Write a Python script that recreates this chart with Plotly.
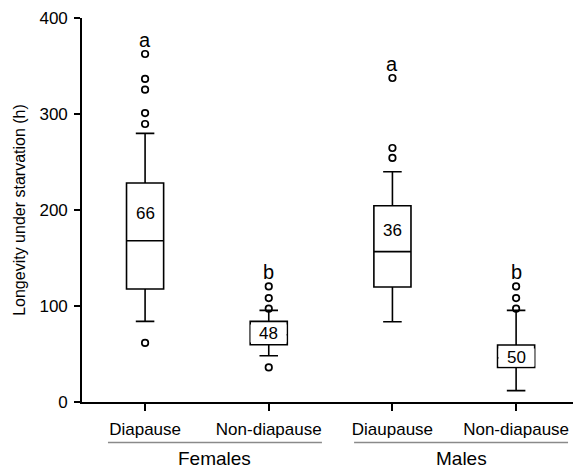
import plotly.graph_objects as go

# ---- data ----
group_labels = ["Females", "Males"]
tick_labels = ["Diapause", "Non-diapause", "Diaupause", "Non-diapause"]
q1 = [117.7, 59.7, 119.8, 36.0]
median = [168.0, 70.0, 156.6, 46.0]
q3 = [228.1, 84.0, 204.5, 59.4]
lower_whisker = [84.0, 48.2, 83.6, 11.8]
upper_whisker = [279.8, 95.4, 239.9, 95.4]
outliers_f_dia = [61.5, 289.6, 301.0, 325.3, 336.5, 362.5]
outliers_f_non = [36.0, 97.2, 108.3, 120.4]
outliers_m_dia = [254.2, 264.6, 337.5]
outliers_m_non = [97.2, 108.3, 120.4]
sample_sizes = [66, 48, 36, 50]
letters = ["a", "b", "a", "b"]

outliers = [outliers_f_dia, outliers_f_non, outliers_m_dia, outliers_m_non]
xpos = list(range(len(tick_labels)))

FONT = "Liberation Sans, Arial, Helvetica, sans-serif"

fig = go.Figure()
fig.add_trace(go.Box(
    x=xpos, q1=q1, median=median, q3=q3,
    lowerfence=lower_whisker, upperfence=upper_whisker,
    width=0.3, whiskerwidth=0.5, boxpoints=False,
    fillcolor="white", line=dict(color="black", width=1.6),
    showlegend=False, hoverinfo="skip",
))

ox, oy = [], []
for i, vals in enumerate(outliers):
    ox += [xpos[i]] * len(vals)
    oy += vals
fig.add_trace(go.Scatter(
    x=ox, y=oy, mode="markers",
    marker=dict(symbol="circle-open", size=6.5, color="black", line=dict(width=1.7)),
    showlegend=False, hoverinfo="skip",
))

annotations = []
for i in xpos:
    small = q3[i] - q1[i] < 60
    if not small:
        ny = (q3[i] + median[i]) / 2 - 2
        annotations.append(dict(x=xpos[i], y=ny, text=str(sample_sizes[i]), showarrow=False,
                                font=dict(size=17, color="black", family=FONT),
                                xref="x", yref="y"))
    else:
        ny = (q3[i] + q1[i]) / 2 - 1
        annotations.append(dict(x=xpos[i], y=ny, text=str(sample_sizes[i]), showarrow=False,
                                font=dict(size=17, color="black", family=FONT),
                                bgcolor="white", width=35, height=17, borderpad=0,
                                xref="x", yref="y"))
    top = max(outliers[i])
    annotations.append(dict(x=xpos[i], y=top, text=letters[i], showarrow=False,
                            yanchor="bottom", yshift=1,
                            font=dict(size=20, color="black", family=FONT),
                            xref="x", yref="y"))

# group labels
group_spans = [(-0.30, 1.43), (1.69, 3.42)]
shapes = []
for (a, b), g in zip(group_spans, group_labels):
    shapes.append(dict(type="line", xref="x", yref="paper", x0=a, x1=b,
                       y0=-0.1055, y1=-0.1055, line=dict(color="#8a8a8a", width=1.5)))
    annotations.append(dict(x=(a + b) / 2, y=-0.148, xref="x", yref="paper",
                            text=g, showarrow=False, yanchor="middle",
                            font=dict(size=19, color="black", family=FONT)))

annotations.append(dict(x=-0.15, y=0.5, xref="paper", yref="paper",
                        text="Longevity under starvation (h)", textangle=-90,
                        showarrow=False, font=dict(size=16, family=FONT, color="black")))

fig.update_layout(
    width=573, height=469,
    margin=dict(l=82, r=0, t=18, b=67),
    plot_bgcolor="white", paper_bgcolor="white",
    font=dict(family=FONT, color="black"),
    annotations=annotations, shapes=shapes,
    xaxis=dict(range=[-0.51, 3.46], tickvals=xpos, ticktext=tick_labels,
               showgrid=False, zeroline=False, showline=True, linecolor="black",
               linewidth=1.6, ticks="outside", ticklen=7, tickwidth=1.5, tickcolor="black",
               ticklabelstandoff=4,
               tickfont=dict(size=17, family=FONT, color="black")),
    yaxis=dict(range=[0, 400], tickvals=[0, 100, 200, 300, 400],
               showgrid=False, zeroline=False, showline=True, linecolor="black",
               linewidth=1.6, ticks="outside", ticklen=6, tickwidth=1.5, tickcolor="black",
               ticklabelstandoff=3,
               tickfont=dict(size=17, family=FONT, color="black")),
)

fig.write_html("out.html")
